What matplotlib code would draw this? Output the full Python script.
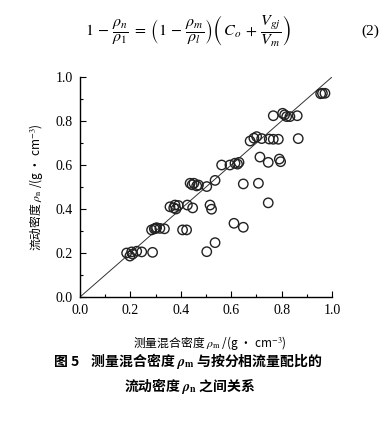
import numpy as np
import matplotlib
matplotlib.use('Agg')
import matplotlib.pyplot as plt
from matplotlib.ticker import MultipleLocator

plt.rcParams['font.family'] = ['Liberation Serif', 'Noto Sans CJK SC', 'DejaVu Sans']
plt.rcParams['mathtext.fontset'] = 'stix'

rho_m = [0.185, 0.198, 0.205, 0.209, 0.225, 0.245, 0.288,
         0.284, 0.295, 0.300, 0.304, 0.317, 0.335, 0.407, 0.423,
         0.357, 0.372, 0.377, 0.381, 0.390, 0.426, 0.447, 0.516, 0.522,
         0.437, 0.445, 0.452, 0.463, 0.470, 0.503, 0.536, 0.648, 0.708,
         0.562, 0.595, 0.615, 0.625, 0.631, 0.714, 0.747, 0.791, 0.796,
         0.503, 0.536, 0.611, 0.648, 0.747,
         0.675, 0.690, 0.701, 0.721, 0.751, 0.767, 0.787, 0.866,
         0.767, 0.804, 0.812, 0.820, 0.833, 0.862,
         0.955, 0.962, 0.972]
rho_n = [0.200, 0.186, 0.205, 0.195, 0.208, 0.205, 0.203,
         0.305, 0.310, 0.312, 0.315, 0.312, 0.310, 0.305, 0.305,
         0.410, 0.405, 0.418, 0.400, 0.416, 0.418, 0.405, 0.418, 0.399,
         0.517, 0.510, 0.517, 0.505, 0.509, 0.502, 0.530, 0.514, 0.517,
         0.600, 0.600, 0.608, 0.604, 0.612, 0.636, 0.612, 0.627, 0.615,
         0.206, 0.247, 0.335, 0.317, 0.428,
         0.709, 0.722, 0.729, 0.720, 0.718, 0.717, 0.717, 0.720,
         0.824, 0.835, 0.828, 0.820, 0.820, 0.824,
         0.924, 0.926, 0.926]

ticks = [0.0, 0.2, 0.4, 0.6, 0.8, 1.0]
tick_labels = ['0.0', '0.2', '0.4', '0.6', '0.8', '1.0']

fig = plt.figure(figsize=(3.84, 4.23), dpi=100)
ax = fig.add_axes([80/384, 1-297/423, 252/384, 220/423])

# 1:1 line
ax.plot([0, 1], [0, 1], color='#333333', lw=0.7)
ax.scatter(rho_m, rho_n, s=46, facecolors='none', edgecolors='#222222', linewidths=1.0, zorder=3)

ax.set_xlim(0, 1)
ax.set_ylim(0, 1)
ax.set_xticks(ticks)
ax.set_xticklabels(tick_labels)
ax.set_yticks(ticks)
ax.set_yticklabels(tick_labels)
ax.xaxis.set_minor_locator(MultipleLocator(0.1))
ax.yaxis.set_minor_locator(MultipleLocator(0.1))
ax.tick_params(which='both', direction='in', labelsize=10, width=0.8)
ax.tick_params(which='major', length=4, pad=5)
ax.tick_params(which='minor', length=2)
ax.spines['top'].set_visible(False)
ax.spines['right'].set_visible(False)
for s in ['left', 'bottom']:
    ax.spines[s].set_linewidth(1.0)

cjk = ['Noto Sans CJK SC', 'DejaVu Sans']
ax.set_xlabel(r'测量混合密度 $\rho_{\rm m}$ /(g · cm$^{-3}$)', family=cjk, fontsize=8.5)
ax.xaxis.set_label_coords(0.516, -0.17)
ax.set_ylabel(r'流动密度 $\rho_{\rm n}$ /(g · cm$^{-3}$)', family=cjk, fontsize=8.5)
ax.yaxis.set_label_coords(-0.14, 0.5)

# equation at the top
fig.text(0.49, 0.925,
         r'$1\,-\,\dfrac{\rho_n}{\rho_1}\;=\;\left(1\,-\,\dfrac{\rho_m}{\rho_l}\right)\left(\,C_o\,+\,\dfrac{V_{gj}}{V_m}\right)$',
         ha='center', va='center', fontsize=11.5)
fig.text(370/384, 0.925, '(2)', ha='center', va='center', fontsize=11)

# caption
fig.text(0.49, 1-361/423, r'图 5    测量混合密度 $\boldsymbol{\rho}_{\mathbf{m}}$ 与按分相流量配比的',
         ha='center', va='center', family=cjk, fontsize=10, fontweight='bold')
fig.text(0.495, 1-386/423, r'流动密度 $\boldsymbol{\rho}_{\mathbf{n}}$ 之间关系',
         ha='center', va='center', family=cjk, fontsize=10, fontweight='bold')

fig.savefig('out.png', dpi=100)
